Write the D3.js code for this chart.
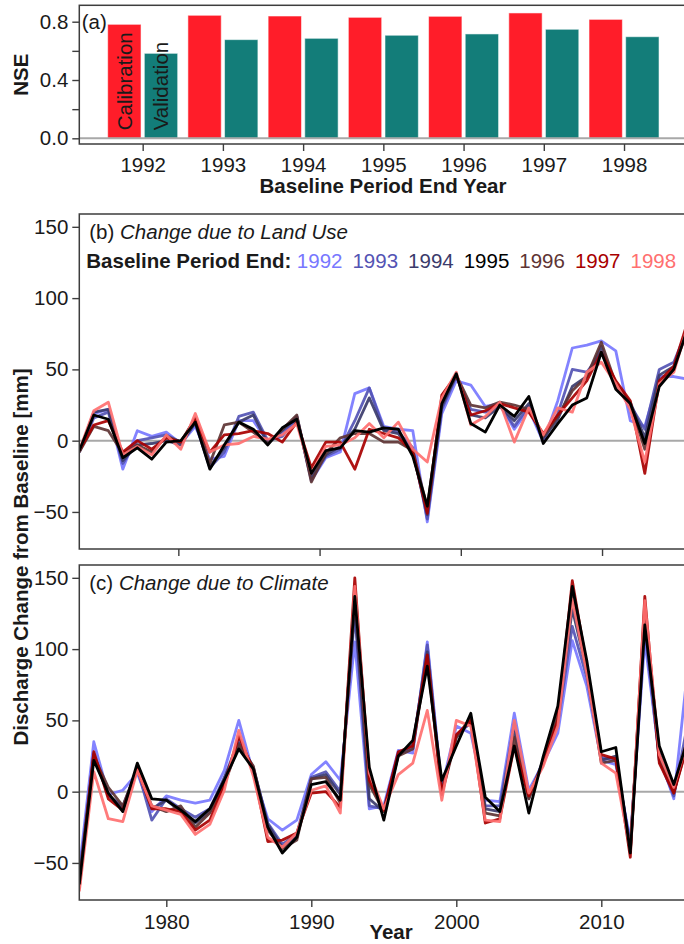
<!DOCTYPE html>
<html>
<head>
<meta charset="utf-8">
<script src="https://cdn.jsdelivr.net/npm/d3@7"></script>
<style>
  body { margin: 0; background: #fff; }
  svg { display: block; font-family: "Liberation Sans", Arial, Helvetica, sans-serif; }
</style>
</head>
<body>
<div id="chart"></div>
<script>
// ---- panel (a): NSE per baseline period end year
const endYears = ["1992", "1993", "1994", "1995", "1996", "1997", "1998"];
const nseCalibration = [0.782, 0.844, 0.839, 0.830, 0.837, 0.860, 0.816];
const nseValidation  = [0.583, 0.677, 0.686, 0.707, 0.716, 0.748, 0.697];
const nseTicks = [0, 0.2, 0.4, 0.6, 0.8];

// ---- panels (b) and (c): yearly discharge change, one series per baseline end year
const years = [1974, 1975, 1976, 1977, 1978, 1979, 1980, 1981, 1982, 1983,
               1984, 1985, 1986, 1987, 1988, 1989, 1990, 1991, 1992, 1993,
               1994, 1995, 1996, 1997, 1998, 1999, 2000, 2001, 2002, 2003,
               2004, 2005, 2006, 2007, 2008, 2009, 2010, 2011, 2012, 2013,
               2014, 2015, 2016];
const seriesNames  = ["1992", "1993", "1994", "1995", "1996", "1997", "1998"];
const seriesColors = ["#7878ff", "#5454b4", "#3b3b6b", "#000000", "#5e3434", "#a80000", "#ff7070"];
const yTicks = [-50, 0, 50, 100, 150];
const yearTicks = [1980, 1990, 2000, 2010];

const landUse1992 = [-8, 19, 22, -20, 7, 3, 6, -2, 10, -13, -11, 14, 14, -1, 5, 17, -28, -12, -8, 33,
  37, 10, 8, 7, -57, 19, 42, 39, 24, 26, 8, 22, -1, 28, 65, 67, 70, 63, 14, 10, 45, 45, 43];
const landUse1993 = [-8, 16, 20, -16, 0, 2, 4, -1, 12, -19, -8, 17, 20, 0, 3, 16, -27, -11, -6, 14,
  37, 8, 6, -5, -55, 22, 45, 22, 20, 25, 10, 24, 0, 19, 50, 48, 62, 40, 25, 8, 50, 55, 80];
const landUse1994 = [-8, 20, 22, -14, -3, -2, 0, -3, 13, -18, -5, 13, 18, -2, 7, 17, -26, -10, -4, 8,
  30, 7, 5, -8, -52, 24, 46, 18, 16, 24, 14, 26, 2, 15, 38, 45, 66, 38, 27, 2, 46, 52, 78];
const landUse1995 = [-7, 18, 15, -12, -5, -13, -1, 0, 13, -20, -3, 13, 8, -3, 9, 15, -23, -7, -5, 7,
  6, 9, 8, -11, -46, 26, 47, 12, 6, 25, 17, 31, -2, 12, 25, 30, 62, 36, 26, -2, 38, 50, 80];
const landUse1996 = [-8, 10, 7, -9, -3, -8, 3, -1, 16, -16, 11, 13, 6, -2, 8, 18, -29, -9, 2, 5,
  5, -1, -1, -7, -47, 28, 46, 25, 23, 27, 25, 22, 3, 17, 35, 45, 69, 40, 26, -6, 40, 50, 82];
const landUse1997 = [-7, 11, 14, -8, 0, -6, 2, -1, 15, -8, 4, 5, 7, 5, -1, 13, -19, -1, -1, -20,
  8, 5, 2, -8, -51, 32, 46, 18, 21, 26, 23, 20, 5, 18, 30, 42, 62, 42, 28, -23, 42, 52, 85];
const landUse1998 = [-7, 21, 27, -10, -4, -10, 4, -6, 19, -8, -3, -2, 3, 1, 4, 12, -23, -4, -3, 2,
  12, 2, 13, -6, -15, 30, 48, 11, 17, 27, -1, 23, 4, 23, 20, 48, 55, 40, 22, -15, 40, 48, 82];

const climate1992 = [-55, 35, -2, 1, 13, -14, -3, -6, -8, -6, 15, 50, 13, -19, -27, -20, 12, 21, 8, 105,
  -12, -10, 29, 27, 105, 3, 46, 41, -6, -7, 55, 1, 20, 41, 106, 74, 22, 19, -34, 106, 25, -5, 90];
const climate1993 = [-60, 27, -3, -10, 16, -20, -5, -12, -18, -12, 10, 36, 17, -22, -37, -30, 10, 14, 0, 125,
  -10, -12, 27, 30, 103, 0, 40, 48, -10, -10, 48, -3, 22, 48, 116, 80, 24, 22, -38, 115, 22, -3, 50];
const climate1994 = [-62, 26, -2, -12, 17, -12, -6, -14, -22, -14, 9, 34, 17, -23, -39, -32, 9, 12, -2, 130,
  -5, -14, 26, 33, 98, 2, 38, 50, -12, -14, 42, -5, 22, 52, 128, 85, 22, 25, -40, 125, 27, -1, 40];
const climate1995 = [-65, 22, -1, -14, 20, -5, -6, -13, -21, -12, 8, 30, 16, -25, -43, -32, 5, 7, -6, 137,
  17, -20, 25, 36, 88, 8, 32, 55, -4, -14, 32, -15, 25, 60, 144, 92, 28, 31, -43, 117, 32, 5, 38];
const climate1996 = [-65, 25, 3, -10, 16, -10, -14, -10, -25, -15, 5, 33, 18, -27, -40, -34, 9, 10, -8, 140,
  5, -14, 25, 30, 95, -2, 38, 52, -15, -17, 38, -5, 21, 55, 140, 86, 20, 22, -42, 130, 22, 0, 35];
const climate1997 = [-68, 28, -5, -13, 16, -12, -12, -14, -27, -20, 5, 39, 15, -35, -34, -29, -1, 0, -11, 150,
  8, -13, 28, 32, 96, -1, 40, 50, -22, -19, 32, -3, 20, 50, 148, 88, 26, 23, -46, 137, 20, -1, 35];
const climate1998 = [-70, 14, -19, -21, 15, -10, -13, -16, -30, -23, 1, 43, 11, -32, -39, -29, 1, 4, -15, 144,
  13, -12, 12, 20, 57, -6, 50, 46, -20, -21, 50, -1, 18, 46, 135, 83, 20, 13, -41, 134, 26, 3, 38];

const landUse = [landUse1992, landUse1993, landUse1994, landUse1995, landUse1996, landUse1997, landUse1998];
const climate = [climate1992, climate1993, climate1994, climate1995, climate1996, climate1997, climate1998];

// ---------------------------------------------------------------
const W = 684, H = 944;
const ink = "#1a1a1a", frame = "#3d3d3d", zeroGrey = "#a8a8a8";
const fs = 20.5;

const svg = d3.select("#chart").append("svg")
    .attr("width", W)
    .attr("height", H);

svg.append("rect").attr("width", W).attr("height", H).attr("fill", "#fff");

function styleAxis(g) {
    g.select(".domain").remove();
    g.selectAll(".tick line").attr("stroke", frame).attr("stroke-width", 1.4);
    g.selectAll(".tick text").attr("fill", ink).style("font-size", fs + "px");
}

// ===== panel (a) =====
const aTop = 5.3, aBottom = 144, left = 79.3;
const xA = d3.scalePoint().domain(endYears).range([left, 687.4]).padding(0.79);
const xInner = d3.scaleBand().domain(["Calibration", "Validation"]).range([-35, 35]).paddingInner(0.09);
const yA = d3.scaleLinear().domain([-0.039, 0.9125]).range([aBottom, aTop]);
const barColor = { Calibration: "#ff1d29", Validation: "#137d79" };

const bars = endYears.flatMap((yr, i) => [
    { year: yr, kind: "Calibration", v: nseCalibration[i] },
    { year: yr, kind: "Validation", v: nseValidation[i] }
]);

const pa = svg.append("g");
pa.selectAll("rect.bar")
    .data(bars)
  .enter().append("rect")
    .attr("class", "bar")
    .attr("x", d => xA(d.year) + xInner(d.kind))
    .attr("width", xInner.bandwidth())
    .attr("y", d => yA(d.v))
    .attr("height", d => yA(0) - yA(d.v))
    .attr("fill", d => barColor[d.kind])
    .attr("stroke", "#ffffff")
    .attr("stroke-opacity", 0.55)
    .attr("stroke-width", 1);

pa.append("line")
    .attr("x1", left).attr("x2", W + 20)
    .attr("y1", yA(0)).attr("y2", yA(0))
    .attr("stroke", zeroGrey).attr("stroke-width", 2);

// labels written inside the first pair of bars
pa.selectAll("text.barlab")
    .data(bars.filter(d => d.year === endYears[0]))
  .enter().append("text")
    .attr("class", "barlab")
    .attr("transform", d => `translate(${xA(d.year) + xInner(d.kind) + xInner.bandwidth() / 2},${yA(0) - 8}) rotate(-90)`)
    .attr("dy", "0.36em")
    .attr("fill", ink)
    .style("font-size", fs + "px")
    .text(d => d.kind);

pa.append("rect")
    .attr("x", left).attr("y", aTop)
    .attr("width", 700).attr("height", aBottom - aTop)
    .attr("fill", "none").attr("stroke", frame).attr("stroke-width", 1.5);

pa.append("g")
    .attr("transform", `translate(${left},0)`)
    .call(d3.axisLeft(yA).tickValues(nseTicks).tickSize(7).tickPadding(4)
        .tickFormat(d => (d === 0.2 || d === 0.6) ? "" : d.toFixed(1)))
    .call(styleAxis);

pa.append("g")
    .attr("transform", `translate(0,${aBottom})`)
    .call(d3.axisBottom(xA).tickSize(7).tickPadding(6))
    .call(styleAxis);

pa.append("text")
    .attr("x", left + 2.4).attr("y", 29)
    .attr("fill", ink).style("font-size", fs + "px")
    .text("(a)");

pa.append("text")
    .attr("x", 383).attr("y", 192.5)
    .attr("text-anchor", "middle")
    .attr("fill", ink).style("font-size", fs + "px").style("font-weight", "bold")
    .text("Baseline Period End Year");

pa.append("text")
    .attr("transform", `translate(28,${(aTop + aBottom) / 2}) rotate(-90)`)
    .attr("text-anchor", "middle")
    .attr("fill", ink).style("font-size", fs + "px").style("font-weight", "bold")
    .text("NSE");

// ===== panels (b) and (c) =====
const x = d3.scaleLinear().domain([1974, 2017]).range([left, 702.8]);
// in the original the tick marks under panel (b) sit a little off the data grid
const xTicksB = d3.scaleLinear().domain([1974, 2017]).range([93.6, 700.9]);

const drawOrder = [0, 1, 2, 4, 5, 6, 3]; // black (1995) on top

function linePanel(id, top, bottom, seriesList, title, showYearLabels, tickScale) {
    const y = d3.scaleLinear().domain([-76, 159]).range([bottom, top]);
    const g = svg.append("g");

    g.append("clipPath").attr("id", id)
      .append("rect")
        .attr("x", left).attr("y", top)
        .attr("width", x.range()[1] - left).attr("height", bottom - top);

    const inner = g.append("g").attr("clip-path", `url(#${id})`);

    inner.append("line")
        .attr("x1", left).attr("x2", x.range()[1])
        .attr("y1", y(0)).attr("y2", y(0))
        .attr("stroke", zeroGrey).attr("stroke-width", 2);

    const line = d3.line()
        .x(d => x(d.year))
        .y(d => y(d.v));

    drawOrder.forEach(i => {
        const pts = years.map((yr, k) => ({ year: yr, v: seriesList[i][k] }));
        inner.append("path")
            .datum(pts)
            .attr("d", line)
            .attr("fill", "none")
            .attr("stroke", seriesColors[i])
            .attr("stroke-opacity", i === 3 ? 1 : 0.92)
            .attr("stroke-width", 2.8)
            .attr("stroke-linejoin", "round");
    });

    g.append("rect")
        .attr("x", left).attr("y", top)
        .attr("width", 700).attr("height", bottom - top)
        .attr("fill", "none").attr("stroke", frame).attr("stroke-width", 1.5);

    g.append("g")
        .attr("transform", `translate(${left},0)`)
        .call(d3.axisLeft(y).tickValues(yTicks).tickSize(7).tickPadding(4))
        .call(styleAxis);

    g.append("g")
        .attr("transform", `translate(0,${bottom})`)
        .call(d3.axisBottom(tickScale).tickValues(yearTicks).tickSize(7).tickPadding(7)
            .tickFormat(showYearLabels ? d3.format("d") : () => ""))
        .call(styleAxis);

    const t = g.append("text")
        .attr("x", left + 10).attr("y", top + 25)
        .attr("fill", ink).style("font-size", fs + "px");
    t.append("tspan").text("(" + title[0] + ") ");
    t.append("tspan").style("font-style", "italic").text(title[1]);
    return g;
}

const pb = linePanel("clipB", 214, 549, landUse, ["b", "Change due to Land Use"], false, xTicksB);
linePanel("clipC", 565, 900, climate, ["c", "Change due to Climate"], true, x);

// legend line inside panel (b)
const legend = pb.append("text")
    .attr("x", left + 7).attr("y", 267.5)
    .style("font-size", fs + "px");
legend.append("tspan")
    .attr("fill", ink).style("font-weight", "bold")
    .text("Baseline Period End:");
seriesNames.forEach((name, i) => {
    legend.append("tspan")
        .attr("dx", i === 0 ? 5.5 : 10)
        .attr("fill", seriesColors[i])
        .text(name);
});

svg.append("text")
    .attr("transform", `translate(28,557) rotate(-90)`)
    .attr("text-anchor", "middle")
    .attr("fill", ink).style("font-size", fs + "px").style("font-weight", "bold")
    .text("Discharge Change from Baseline [mm]");

svg.append("text")
    .attr("x", (left + x.range()[1]) / 2).attr("y", 939)
    .attr("text-anchor", "middle")
    .attr("fill", ink).style("font-size", fs + "px").style("font-weight", "bold")
    .text("Year");
</script>
</body>
</html>
